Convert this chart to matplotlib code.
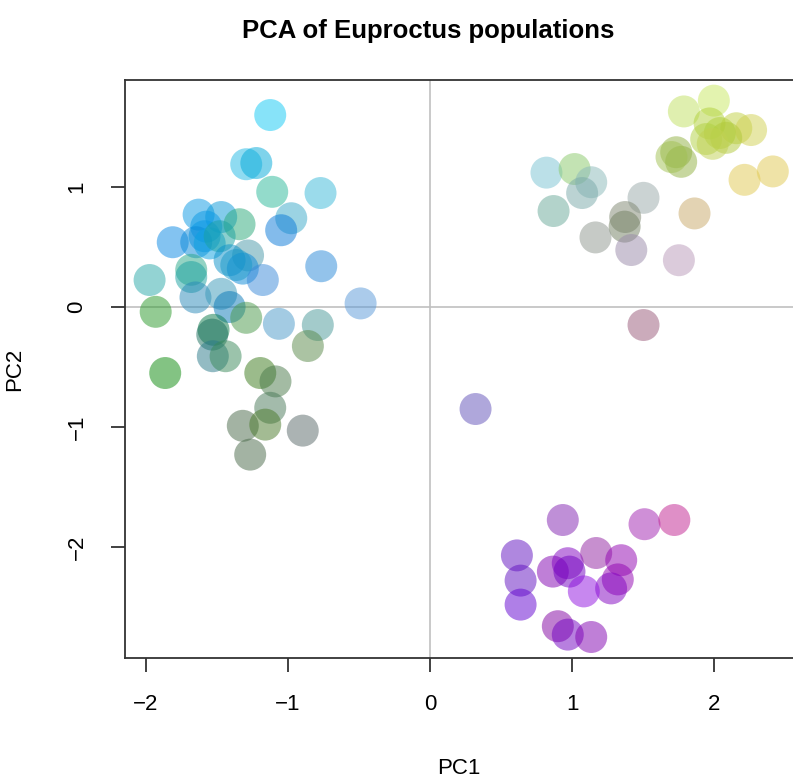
import matplotlib

matplotlib.use("Agg")
import matplotlib.pyplot as plt

plt.rcParams["font.family"] = ["Liberation Sans", "DejaVu Sans"]

# PCA scores (PC1, PC2) and point colours, one entry per individual
west_pc1 = [-1.124, -1.293, -1.222, -1.11, -0.77, -1.628, -1.469, -1.34, -0.976, -1.047,
            -1.81, -1.574, -1.586, -1.645, -1.55, -1.48, -1.28, -1.41, -1.317, -1.363,
            -1.68, -1.68, -1.176, -0.765, -1.973, -1.65, -1.469, -1.41, -1.293, -1.93,
            -1.063, -0.789, -0.488, -1.523, -1.532, -0.859, -1.528, -1.438, -1.863, -1.194,
            -1.087, -1.124, -1.317, -1.159, -0.895, -1.265]
west_pc2 = [1.60, 1.19, 1.20, 0.96, 0.95, 0.77, 0.75, 0.69, 0.74, 0.64,
            0.54, 0.67, 0.59, 0.54, 0.53, 0.59, 0.43, 0.39, 0.32, 0.35,
            0.31, 0.25, 0.225, 0.34, 0.225, 0.08, 0.11, 0.00, -0.09, -0.04,
            -0.14, -0.15, 0.03, -0.19, -0.23, -0.325, -0.41, -0.41, -0.55, -0.55,
            -0.62, -0.84, -0.99, -0.98, -1.03, -1.23]
west_colours = ["#11c9f5", "#21b9e5", "#00a9d9", "#29b999", "#39b9d9", "#0999e5", "#0999d9", "#29a979", "#39a9c9", "#0879d9",
                "#0989e5", "#0999e5", "#0999e5", "#0989d9", "#09a1e1", "#19a1a1", "#4999a9", "#0991c9", "#0989d9", "#1999c9",
                "#29a989", "#19a1a1", "#3989d9", "#2989d9", "#29a9a9", "#2989b9", "#3999b9", "#0979b9", "#499949", "#299929",
                "#4999c9", "#499999", "#5999d9", "#097949", "#196e5d", "#598949", "#297989", "#398959", "#098909", "#397919",
                "#497949", "#497959", "#496949", "#497929", "#596969", "#496949"]

north_pc1 = [0.82, 1.018, 1.135, 1.071, 0.87, 1.503, 1.374, 1.37, 1.165, 1.417,
             1.752, 1.503, 1.862, 2.214, 2.413, 1.787, 1.998, 1.968, 2.156, 2.26,
             2.04, 2.085, 1.944, 1.99, 1.733, 1.768, 1.70]
north_pc2 = [1.12, 1.15, 1.04, 0.95, 0.80, 0.91, 0.75, 0.67, 0.58, 0.475,
             0.39, -0.15, 0.78, 1.06, 1.13, 1.63, 1.72, 1.53, 1.49, 1.475,
             1.45, 1.41, 1.40, 1.36, 1.29, 1.21, 1.25]
north_colours = ["#79c3d3", "#89c969", "#89b9b9", "#79a9a9", "#69a999", "#99a9a9", "#7f8771", "#717f61", "#8f978f", "#9989a9",
                 "#b999b9", "#995979", "#c9a969", "#e1c951", "#e1c951", "#c1e161", "#c9e961", "#b1d139", "#c1d141", "#d1d151",
                 "#b1d139", "#b1c939", "#b1d141", "#c1d151", "#91b141", "#91b141", "#a1c151"]

south_pc1 = [0.321, 0.935, 1.51, 1.72, 0.612, 0.638, 0.638, 0.865, 0.97, 0.982,
             1.17, 1.346, 1.322, 1.275, 1.083, 0.90, 0.97, 1.135]
south_pc2 = [-0.85, -1.775, -1.81, -1.775, -2.07, -2.28, -2.48, -2.205, -2.135, -2.205,
             -2.05, -2.11, -2.27, -2.345, -2.37, -2.66, -2.73, -2.75]
south_colours = ["#6151b9", "#8121b1", "#a121b1", "#c12191", "#6111c1", "#6111c1", "#6101d1", "#8101b1", "#8101c1", "#7101c1",
                 "#9121a1", "#9101b1", "#9101b1", "#8101c1", "#9111e1", "#8101a1", "#7101c1", "#8101b1"]

POINT_ALPHA = 0.5
POINT_SIZE = 530

fig = plt.figure(figsize=(7.93, 7.80), dpi=100)
ax = fig.add_axes([125 / 793, (780 - 658) / 780, 668 / 793, 578 / 780])

ax.axvline(0, color="#c0c0c0", linewidth=1.2, zorder=0)
ax.axhline(0, color="#c0c0c0", linewidth=1.2, zorder=0)

for xs, ys, cols in [(west_pc1, west_pc2, west_colours),
                     (north_pc1, north_pc2, north_colours),
                     (south_pc1, south_pc2, south_colours)]:
    ax.scatter(xs, ys, s=POINT_SIZE, c=cols, alpha=POINT_ALPHA, linewidths=0, zorder=2)

ax.set_xlim(-2.146, 2.555)
ax.set_ylim(-2.925, 1.892)
ax.set_xticks([-2, -1, 0, 1, 2])
ax.set_yticks([-2, -1, 0, 1])
ax.spines["right"].set_visible(False)
for side in ["left", "top", "bottom"]:
    ax.spines[side].set_linewidth(1.3)
    ax.spines[side].set_color("#333333")

ax.tick_params(axis="both", length=10, width=1.3, color="#333333", labelsize=16)
ax.tick_params(axis="x", pad=16)
ax.tick_params(axis="y", pad=17)
for label in ax.get_yticklabels():
    label.set_rotation(90)
    label.set_va("center")

ax.set_xlabel("PC1", fontsize=16, labelpad=31)
ax.set_ylabel("PC2", fontsize=16, labelpad=30)
fig.text(428 / 793, 1 - 31 / 780, "PCA of Euproctus populations",
         fontsize=18.5, fontweight="bold", ha="center", va="center")

fig.savefig("out.png", dpi=100)
